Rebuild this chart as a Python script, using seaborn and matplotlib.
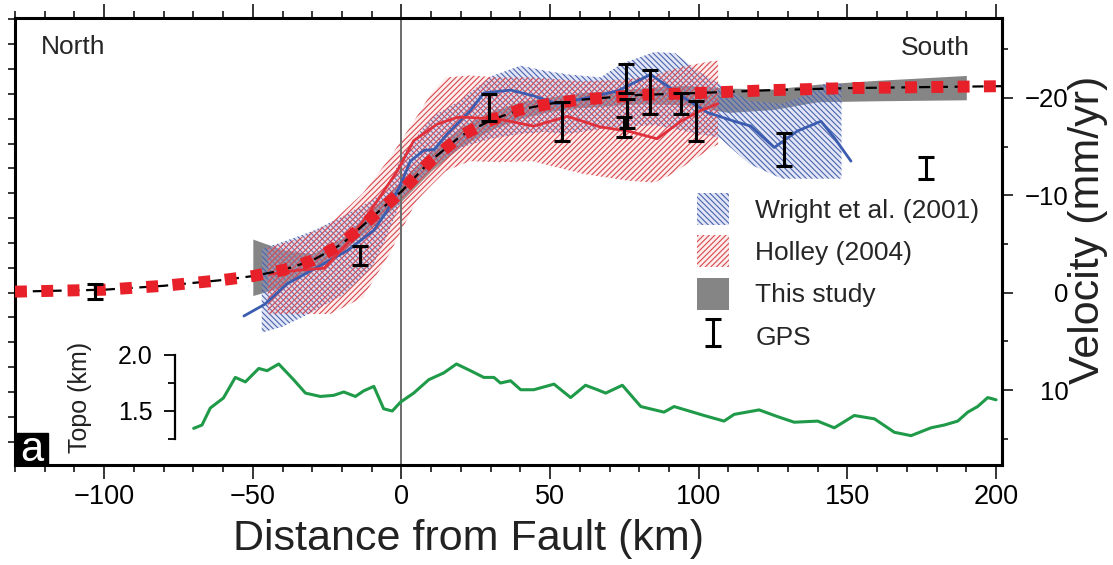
import numpy as np
import pandas as pd
import matplotlib
matplotlib.use("Agg")
import matplotlib.pyplot as plt
import seaborn as sns
from matplotlib.patches import Patch, Rectangle
from matplotlib.ticker import MultipleLocator, FixedLocator
from matplotlib.legend_handler import HandlerErrorbar

# ---------------- data ----------------
# model ("This study" best fit, dotted red/black line)
model_x = [-130, -100, -80, -60, -50, -40, -30, -20, -10, 0, 10, 20, 30, 40, 50, 60, 80, 100, 125, 150, 175, 202]
model_v = [-0.1, -0.3, -0.7, -1.3, -1.7, -2.3, -3.3, -5.0, -7.7, -10.4, -13.6, -16.1, -17.7, -18.8, -19.4, -19.8,
           -20.3, -20.5, -20.8, -21.0, -21.1, -21.2]

# "This study" uncertainty band
study_x = [-50, -40, -30, -20, -10, 0, 10, 20, 30, 40, 50, 60, 80, 95, 110, 125, 140, 160, 190]
study_hi = [-5.5, -4.4, -4.0, -5.6, -8.6, -11.5, -14.6, -17.0, -18.6, -19.6, -20.1, -20.5, -21.0, -21.3, -21.0,
            -20.9, -21.4, -21.8, -22.3]
study_lo = [0.3, -0.6, -2.4, -4.2, -6.8, -9.4, -12.5, -15.0, -16.7, -17.9, -18.6, -19.0, -19.4, -19.3, -18.5,
            -18.8, -19.6, -19.7, -19.8]

# Wright et al. (2001) band and mean line
wright_x = [-47, -40, -30, -20, -10, -5, 0, 10, 20, 30, 40, 48, 56, 67, 74, 85, 92, 100, 107, 117, 128, 137, 143, 148]
wright_hi = [-4.5, -5.2, -6.3, -7.8, -9.5, -10.5, -14.0, -18.0, -19.8, -22.2, -23.3, -22.8, -22.4, -22.1, -23.5,
             -24.7, -24.6, -22.7, -21.4, -19.7, -19.4, -20.4, -21.6, -21.4]
wright_lo = [4.1, 3.5, 2.0, 0.3, -2.5, -5.7, -9.5, -12.8, -14.9, -15.8, -16.3, -16.5, -16.3, -16.8, -17.0, -17.2,
             -16.8, -16.3, -15.9, -13.2, -11.7, -11.7, -11.7, -11.7]
wright_line_x = [-53, -46, -38.5, -28.4, -18.3, -9.3, -4.8, -0.3, 3, 7.5, 11, 15.4, 23.2, 27.7, 36.7, 44.5, 52.4,
                 62.5, 72.6, 83.8, 89.5, 95.1, 102.9, 111.9, 117.5, 125.4, 133.2, 141.1, 145.6, 151.2]
wright_line_v = [2.4, 1.2, -0.9, -2.6, -4.3, -6.4, -8.4, -11.1, -13.5, -14.6, -14.7, -16.3, -18.7, -20.5, -20.8,
                 -20.2, -19.4, -20.0, -20.7, -22.4, -21.2, -20.0, -18.5, -17.6, -17.1, -14.9, -16.6, -17.6,
                 -15.9, -13.5]

# Holley (2004) band and mean line
holley_x = [-45, -35, -24, -13, -4, 5, 10, 15, 23, 33, 44, 61, 76, 85, 90, 96, 105, 106.5]
holley_hi = [-4.6, -5.5, -7.1, -10.2, -13.8, -18.0, -20.5, -22.1, -22.3, -22.1, -22.1, -21.7, -21.9, -22.3,
             -22.8, -23.3, -23.8, -23.8]
holley_lo = [2.2, 2.2, 2.2, 0.5, -4.0, -9.4, -11.0, -12.5, -13.5, -13.4, -13.5, -12.2, -11.5, -11.3, -12.0,
             -13.2, -15.0, -15.2]
holley_line_x = [-44, -35, -26, -18.3, -8.2, -1.4, 4.1, 12, 18.8, 22, 33, 44.5, 55.8, 67, 76, 86, 94, 100.7, 106.4]
holley_line_v = [-1.9, -2.3, -2.5, -5.0, -9.4, -12.5, -15.6, -17.3, -18.0, -18.0, -17.8, -17.1, -18.1, -17.0,
                 -16.6, -15.8, -17.6, -18.7, -19.4]

# GPS velocities with uncertainties
gps_x = [-103, -13.8, 29.4, 54.1, 75.5, 76.0, 75.0, 83.6, 94.0, 99.0, 128.7, 176.4]
gps_v = [-0.1, -3.8, -19.0, -17.6, -22.0, -18.4, -17.0, -20.6, -19.4, -17.65, -14.7, -12.8]
gps_err = [0.8, 1.0, 1.4, 2.0, 1.5, 1.5, 1.0, 2.3, 1.1, 2.05, 1.7, 1.1]

# topography profile (km)
topo_x = [-69.9, -67.1, -64.3, -59.9, -55.9, -52.5, -48.0, -45.2, -41.3, -36.3, -32.3, -27.3, -22.8, -19.4,
          -15.5, -12.7, -9.3, -6.0, -3.1, -0.3, 4.1, 9.2, 14.2, 18.5, 23.2, 27.7, 31.1, 33.3, 36.7, 40.1, 44.5,
          51.3, 56.9, 61.9, 65.9, 68.7, 74.3, 80.5, 88.3, 91.7, 101.8, 108.5, 111.9, 120.3, 126.5, 132.1, 140.0,
          145.6, 152.3, 159.1, 165.8, 171.4, 178.1, 182.6, 187.1, 190.5, 193.8, 197.2, 200.0]
topo_h = [1.345, 1.375, 1.527, 1.616, 1.80, 1.76, 1.88, 1.86, 1.92, 1.78, 1.66, 1.63, 1.64, 1.67, 1.63, 1.68,
          1.72, 1.52, 1.50, 1.58, 1.66, 1.78, 1.84, 1.92, 1.86, 1.80, 1.80, 1.75, 1.77, 1.69, 1.69, 1.74, 1.62,
          1.73, 1.69, 1.66, 1.73, 1.54, 1.49, 1.54, 1.46, 1.41, 1.47, 1.51, 1.45, 1.40, 1.41, 1.35, 1.46, 1.43,
          1.31, 1.28, 1.35, 1.375, 1.41, 1.49, 1.54, 1.62, 1.60]

vel_ticks = [-20, -10, 0, 10]
vel_minor = [-25, -15, -5, 5, 15]
topo_ticks = [1.5, 2.0]
topo_tick_labels = ["1.5", "2.0"]
legend_labels = ["Wright et al. (2001)", "Holley (2004)", "This study", "GPS"]

# ---------------- style ----------------
sns.set_theme(style="ticks")
plt.rcParams["font.family"] = ["Liberation Sans", "DejaVu Sans"]
plt.rcParams["hatch.linewidth"] = 0.8
plt.rcParams["axes.unicode_minus"] = True

C_BLUE_LINE = "#3c5cb0"
C_BLUE_HATCH = "#4a64ad"
C_RED_LINE = "#e0303c"
C_RED_HATCH = "#d9474f"
C_SQ = "#e8202a"
C_GRAY = "#858585"
C_GREEN = "#1f9a48"
HATCH_BLUE = "\\" * 6
HATCH_RED = "/" * 6
FACE_BLUE = (0.6, 0.66, 0.88, 0.28)
FACE_RED = (0.97, 0.7, 0.7, 0.22)

W, H = 1113, 565
fig = plt.figure(figsize=(W / 100, H / 100), dpi=100)
ax = fig.add_axes([15 / W, 100 / H, 987 / W, 447 / H])
ax.set_xlim(-130, 202)
ax.set_ylim(17.7, -28.2)

# bands
ax.fill_between(study_x, study_lo, study_hi, color=C_GRAY, lw=0, zorder=1)
ax.fill_between(wright_x, wright_lo, wright_hi, facecolor=FACE_BLUE,
                edgecolor=C_BLUE_HATCH, hatch=HATCH_BLUE, lw=0, zorder=2)
ax.fill_between(holley_x, holley_lo, holley_hi, facecolor=FACE_RED,
                edgecolor=C_RED_HATCH, hatch=HATCH_RED, lw=0, zorder=2.1)

ax.axvline(0, color="#6b6b6b", lw=1.4, zorder=2.5)

# mean lines
sns.lineplot(x=wright_line_x, y=wright_line_v, ax=ax, color=C_BLUE_LINE, lw=2.0, sort=False,
             estimator=None, zorder=3)
sns.lineplot(x=holley_line_x, y=holley_line_v, ax=ax, color=C_RED_LINE, lw=2.0, sort=False,
             estimator=None, zorder=3)

# model line
sns.lineplot(x=model_x, y=model_v, ax=ax, color="black", lw=1.6, sort=False, estimator=None,
             linestyle=(0, (5, 3)), zorder=4)
sns.lineplot(x=model_x, y=model_v, ax=ax, color=C_SQ, lw=8.6, sort=False, estimator=None,
             linestyle=(0, (1, 1.2)), dash_capstyle="butt", zorder=4.5)

# GPS
gps = ax.errorbar(gps_x, gps_v, yerr=gps_err, fmt="none", ecolor="black", elinewidth=2.2,
                  capsize=5.5, capthick=2.2, zorder=6)

# axes styling
for s in ax.spines.values():
    s.set_linewidth(2.2)
    s.set_color("black")
ax.xaxis.set_major_locator(MultipleLocator(50))
ax.xaxis.set_minor_locator(MultipleLocator(10))
ax.tick_params(axis="x", which="major", top=True, bottom=True, labeltop=False, direction="out",
               length=10, width=1.1, labelsize=19.5, pad=4, color="black", labelcolor="black")
ax.tick_params(axis="x", which="minor", top=True, bottom=True, direction="out", length=5, width=1.1,
               color="black")
ax.yaxis.set_major_locator(MultipleLocator(2.55))
ax.tick_params(axis="y", which="major", left=True, right=False, labelleft=False, direction="out",
               length=5, width=1.1, color="black")
ax.set_ylabel("")
ax.set_xlabel("Distance from Fault (km)", fontsize=31, color="#222222")
ax.xaxis.set_label_coords(0.4595, -0.1655)
ax.xaxis.label.set_va("center")

# right velocity axis
sec = ax.secondary_yaxis("right")
sec.set_yticks(vel_ticks)
sec.yaxis.set_minor_locator(FixedLocator(vel_minor))
sec.spines["right"].set_linewidth(2.2)
sec.tick_params(which="major", direction="out", length=8, width=1.1, labelsize=18.5, pad=40,
                color="black", labelcolor="black")
sec.tick_params(which="minor", direction="out", length=4.3, width=1.1, color="black")
for lbl in sec.get_yticklabels():
    lbl.set_horizontalalignment("right")
sec.set_ylabel("Velocity (mm/yr)", fontsize=31, color="#222222")
sec.yaxis.set_label_coords(1.087, 0.526, transform=ax.transAxes)
sec.yaxis.label.set_va("center")
sec.yaxis.label.set_ha("center")

# texts
ax.text(0.0263, 0.936, "North", transform=ax.transAxes, fontsize=19, ha="left", va="center")
ax.text(0.9676, 0.934, "South", transform=ax.transAxes, fontsize=19, ha="right", va="center")
ax.add_patch(Rectangle((0, 0), 33 / 987, 32 / 447, transform=ax.transAxes, color="black",
                       zorder=7, clip_on=False))
ax.text(0.0167, 0.008, "a", transform=ax.transAxes, fontsize=30, color="white", ha="center",
        va="baseline", zorder=8)

# legend
handles = [
    Patch(facecolor=FACE_BLUE, edgecolor=C_BLUE_HATCH, hatch=HATCH_BLUE, lw=0),
    Patch(facecolor=FACE_RED, edgecolor=C_RED_HATCH, hatch=HATCH_RED, lw=0),
    Patch(facecolor=C_GRAY, lw=0),
    gps,
]
ax.legend(handles, legend_labels, loc="upper left", bbox_to_anchor=(0.691, 0.6085),
          bbox_transform=ax.transAxes, frameon=False, fontsize=19, borderpad=0, borderaxespad=0,
          handlelength=1.21, handleheight=1.48, handletextpad=1.0, labelspacing=0.4,
          handler_map={type(gps): HandlerErrorbar(yerr_size=0.51)})

# topography (separate scale)
ax_t = ax.twinx()
ax_t.set_ylim(1.018, 5.009)
sns.lineplot(x=topo_x, y=topo_h, ax=ax_t, color=C_GREEN, lw=2.2, sort=False, estimator=None)
ax_t.axis("off")

# topo scale bar
ax_sb = fig.add_axes([175 / W, (565 - 439) / H, 0.01, 84 / H])
ax_sb.set_ylim(1.25, 2.0)
ax_sb.patch.set_visible(False)
for k in ["top", "right", "bottom"]:
    ax_sb.spines[k].set_visible(False)
ax_sb.spines["left"].set_linewidth(1.6)
ax_sb.spines["left"].set_color("black")
ax_sb.set_xticks([])
ax_sb.set_yticks(topo_ticks)
ax_sb.set_yticklabels(topo_tick_labels)
ax_sb.yaxis.set_minor_locator(FixedLocator([1.25, 1.75]))
ax_sb.tick_params(axis="y", which="major", direction="out", length=8, width=1.3, labelsize=18,
                  pad=8, color="black", labelcolor="black")
ax_sb.tick_params(axis="y", which="minor", direction="out", length=5, width=1.3, color="black")
ax_sb.set_ylabel("Topo (km)", fontsize=18, color="#222222")
ax_sb.yaxis.set_label_coords((80 - 175) / (0.01 * W), 0.5)
ax_sb.yaxis.label.set_va("center")

fig.savefig("out.png", dpi=100)
